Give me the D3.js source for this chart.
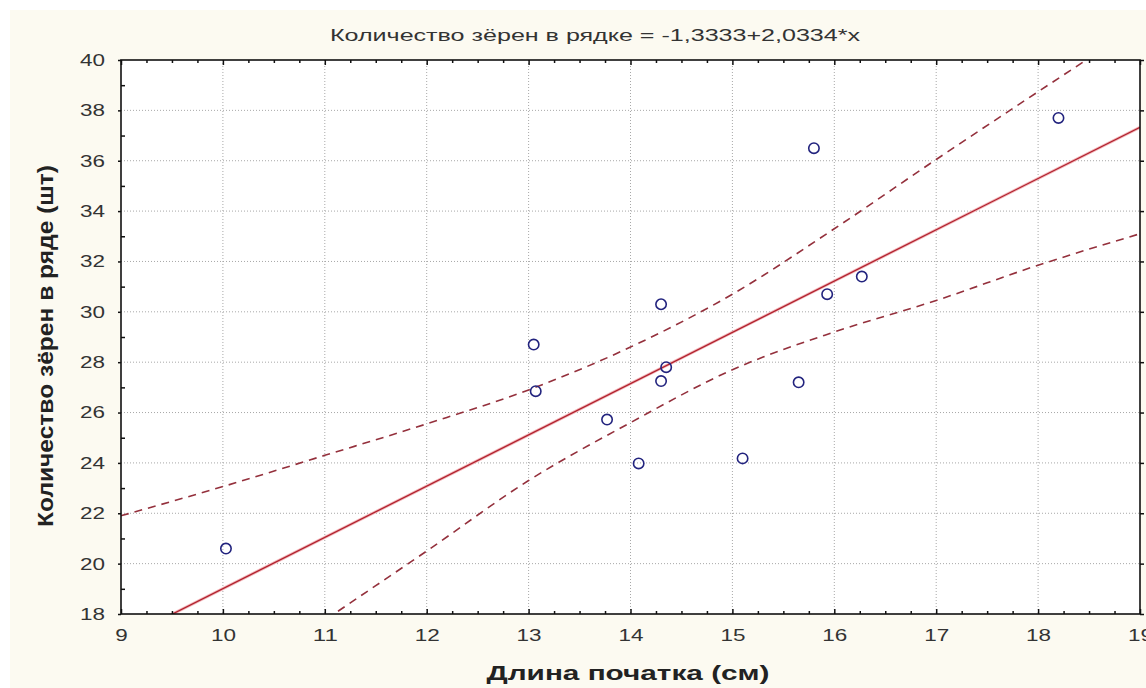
<!DOCTYPE html>
<html>
<head>
<meta charset="utf-8">
<script src="https://cdn.jsdelivr.net/npm/d3@7"></script>
<style>
  body { margin: 0; background: #fff; }
  text { font-family: "Liberation Sans", Arial, sans-serif; }
</style>
</head>
<body>
<div id="chart"></div>
<script>
// data
var lengthCm = [10.03, 13.05, 13.07, 13.77, 14.08, 14.3, 14.3, 14.35, 15.1, 15.65, 15.8, 15.93, 16.27, 18.2];
var grains   = [20.6, 28.7, 26.85, 25.72, 23.98, 30.3, 27.25, 27.8, 24.18, 27.2, 36.5, 30.7, 31.4, 37.7];

var fitX = [9, 19];
var fitY = [16.97, 37.33];

var bandX     = [9, 10, 11, 12, 13, 14, 15, 16, 17, 18, 19];
var bandUpper = [21.9, 23.06, 24.3, 25.55, 26.9, 28.6, 30.7, 33.3, 36.05, 38.74, 41.4];
var bandLower = [12.0, 14.95, 17.75, 20.5, 23.3, 25.6, 27.7, 29.2, 30.45, 31.85, 33.1];

var xTicks = [9, 10, 11, 12, 13, 14, 15, 16, 17, 18, 19];
var yTicks = [18, 20, 22, 24, 26, 28, 30, 32, 34, 36, 38, 40];

var title = "Количество зёрен в рядке = -1,3333+2,0334*x";
var xTitle = "Длина початка (см)";
var yTitle = "Количество зёрен в ряде (шт)";

var W = 1146, H = 688;
var margin = {top: 60, right: 6, bottom: 74, left: 121};
var width = W - margin.left - margin.right,
    height = H - margin.top - margin.bottom;

var x = d3.scaleLinear().domain([9, 19]).range([0, width]);
var y = d3.scaleLinear().domain([18, 40]).range([height, 0]);

var root = d3.select("#chart").append("svg")
    .attr("width", W)
    .attr("height", H);

root.append("rect")
    .attr("x", 10).attr("y", 10)
    .attr("width", W - 10).attr("height", H - 10)
    .attr("fill", "#fcfaf1");

var svg = root.append("g")
    .attr("transform", "translate(" + margin.left + "," + margin.top + ")");

svg.append("rect")
    .attr("width", width).attr("height", height)
    .attr("fill", "#fff");

svg.append("defs").append("clipPath").attr("id", "plotclip")
    .append("rect").attr("width", width).attr("height", height);

// grid
var grid = svg.append("g").attr("class", "grid");
grid.selectAll(".gx").data(xTicks.slice(1, -1)).enter().append("line")
    .attr("x1", function(d) { return x(d); }).attr("x2", function(d) { return x(d); })
    .attr("y1", 0).attr("y2", height)
    .attr("stroke", "#a8a8a8").attr("stroke-dasharray", "1,2");
grid.selectAll(".gy").data(yTicks.slice(1, -1)).enter().append("line")
    .attr("y1", function(d) { return y(d); }).attr("y2", function(d) { return y(d); })
    .attr("x1", 0).attr("x2", width)
    .attr("stroke", "#a8a8a8").attr("stroke-dasharray", "1,2");

var plot = svg.append("g").attr("clip-path", "url(#plotclip)");

var line = d3.line()
    .x(function(d) { return x(d[0]); })
    .y(function(d) { return y(d[1]); })
    .curve(d3.curveMonotoneX);

plot.append("path")
    .attr("d", line(d3.zip(bandX, bandUpper)))
    .attr("fill", "none").attr("stroke", "#94303c")
    .attr("stroke-width", 1.6).attr("stroke-dasharray", "8,6");
plot.append("path")
    .attr("d", line(d3.zip(bandX, bandLower)))
    .attr("fill", "none").attr("stroke", "#94303c")
    .attr("stroke-width", 1.6).attr("stroke-dasharray", "8,6");

plot.append("path")
    .attr("d", line(d3.zip(fitX, fitY)))
    .attr("fill", "none").attr("stroke", "#f3b8bc").attr("stroke-width", 3);
plot.append("path")
    .attr("d", line(d3.zip(fitX, fitY)))
    .attr("fill", "none").attr("stroke", "#b0222e").attr("stroke-width", 1.3);

plot.selectAll(".pt")
    .data(d3.zip(lengthCm, grains))
    .enter().append("circle")
    .attr("class", "pt")
    .attr("cx", function(d) { return x(d[0]); })
    .attr("cy", function(d) { return y(d[1]); })
    .attr("r", 5.2)
    .attr("fill", "none")
    .attr("stroke", "#22237e")
    .attr("stroke-width", 1.6);

// axes
var xMinor = d3.range(9, 19.01, 0.25).filter(function(v) { return v % 1 !== 0; });
var yMinor = d3.range(19, 40, 2);

svg.append("g").attr("transform", "translate(0," + height + ")")
    .call(d3.axisBottom(x).tickValues(xTicks).tickSize(-5).tickPadding(15)
        .tickFormat(d3.format("d")))
    .call(function(g) { g.select(".domain").remove(); });
svg.append("g").attr("transform", "translate(0," + height + ")")
    .call(d3.axisBottom(x).tickValues(xMinor).tickSize(-3).tickFormat(""))
    .call(function(g) { g.select(".domain").remove(); });
svg.append("g")
    .call(d3.axisTop(x).tickValues(xTicks).tickSize(-5).tickFormat(""))
    .call(function(g) { g.select(".domain").remove(); });
svg.append("g")
    .call(d3.axisTop(x).tickValues(xMinor).tickSize(-3).tickFormat(""))
    .call(function(g) { g.select(".domain").remove(); });

svg.append("g")
    .call(d3.axisLeft(y).tickValues(yTicks).tickSize(3).tickPadding(13)
        .tickFormat(d3.format("d")))
    .call(function(g) { g.select(".domain").remove(); });
svg.append("g")
    .call(d3.axisLeft(y).tickValues(yMinor).tickSize(-4).tickFormat(""))
    .call(function(g) { g.select(".domain").remove(); });
svg.append("g").attr("transform", "translate(" + width + ",0)")
    .call(d3.axisRight(y).tickValues(yTicks).tickSize(4).tickFormat(""))
    .call(function(g) { g.select(".domain").remove(); });

svg.selectAll(".tick line").attr("stroke", "#111").attr("stroke-width", 1.5);
svg.selectAll(".tick text")
    .attr("font-size", 17)
    .attr("fill", "#333")
    .attr("textLength", function() { return this.textContent.length * 12.5; })
    .attr("lengthAdjust", "spacingAndGlyphs");

svg.append("rect")
    .attr("width", width).attr("height", height)
    .attr("fill", "none").attr("stroke", "#111").attr("stroke-width", 1.6);

// titles
root.append("text")
    .attr("x", 595).attr("y", 41)
    .attr("text-anchor", "middle")
    .attr("font-size", 16)
    .attr("fill", "#333")
    .attr("textLength", 530)
    .attr("lengthAdjust", "spacingAndGlyphs")
    .text(title);

root.append("text")
    .attr("x", 628).attr("y", 680)
    .attr("text-anchor", "middle")
    .attr("font-size", 20)
    .attr("font-weight", "bold")
    .attr("fill", "#222")
    .attr("textLength", 283)
    .attr("lengthAdjust", "spacingAndGlyphs")
    .text(xTitle);

root.append("text")
    .attr("transform", "translate(53,346) rotate(-90) scale(1,1.35)")
    .attr("text-anchor", "middle")
    .attr("font-size", 17)
    .attr("font-weight", "bold")
    .attr("fill", "#222")
    .attr("textLength", 362)
    .attr("lengthAdjust", "spacingAndGlyphs")
    .text(yTitle);
</script>
</body>
</html>
